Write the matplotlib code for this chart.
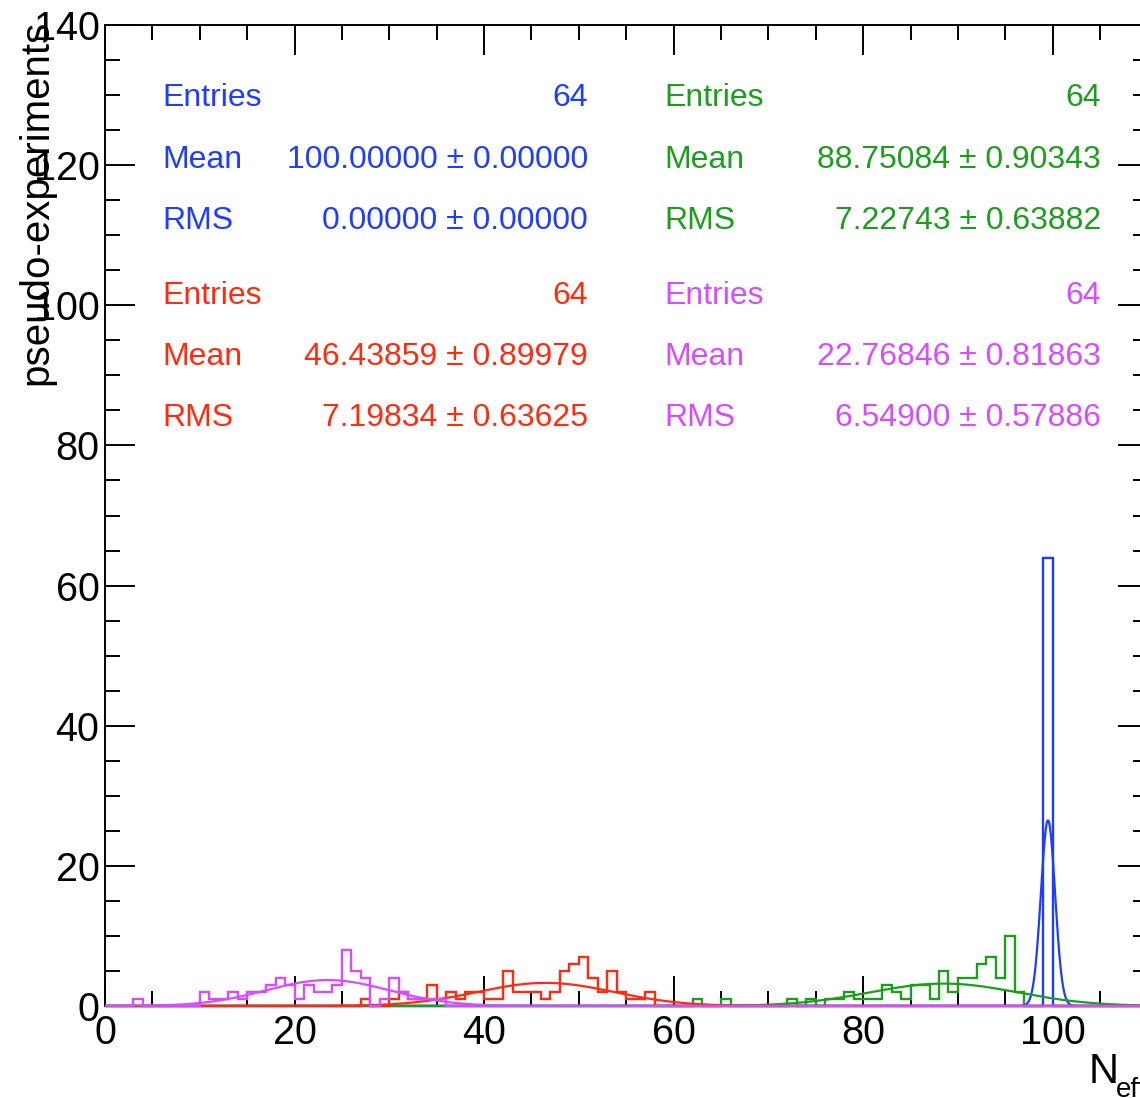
import numpy as np
import matplotlib.pyplot as plt
from matplotlib.ticker import MultipleLocator

plt.rcParams['font.family'] = ['Liberation Sans', 'DejaVu Sans']

W, H = 1140, 1098

# histogram binning: unit bins from 0 to 110
bin_edges = np.arange(0, 111, 1)

# non-empty bins (low edge) and their counts
blue_bins = [99]
blue_counts = [64]

green_bins = [62, 65, 72, 74, 76, 77, 78, 79, 80, 81, 82, 83, 84, 85, 86, 87, 88, 89, 90, 91, 92, 93, 94, 95, 96]
green_counts = [1, 1, 1, 1, 1, 1, 2, 1, 1, 1, 3, 2, 1, 3, 3, 1, 5, 2, 4, 4, 6, 7, 4, 10, 2]

red_bins = [27, 30, 31, 32, 33, 34, 35, 36, 37, 38, 39, 40, 41, 42, 43, 44, 45, 46, 47, 48, 49, 50,
            51, 52, 53, 54, 55, 56, 57]
red_counts = [1, 1, 2, 1, 1, 3, 1, 2, 1, 2, 2, 1, 1, 5, 2, 2, 2, 1, 2, 5, 6, 7,
              4, 2, 5, 2, 1, 1, 2]

magenta_bins = [3, 10, 11, 12, 13, 14, 15, 16, 17, 18, 19, 20, 21, 22, 23, 24, 25, 26, 27, 29, 30,
                31, 32, 33, 34, 35]
magenta_counts = [1, 2, 1, 1, 2, 1, 2, 2, 3, 4, 3, 1, 3, 2, 2, 3, 8, 5, 4, 1, 4,
                  2, 1, 1, 1, 1]

# gaussian fit results (amplitude, mean, sigma) as drawn
blue_fit = (26.5, 99.5, 0.75)
green_fit = (3.2, 88.5, 7.8)
red_fit = (3.3, 46.5, 7.2)
magenta_fit = (3.7, 23.5, 6.5)

# stats boxes
blue_stats = ["64", "100.00000 \u00b1 0.00000", "0.00000 \u00b1 0.00000"]
green_stats = ["64", "88.75084 \u00b1 0.90343", "7.22743 \u00b1 0.63882"]
red_stats = ["64", "46.43859 \u00b1 0.89979", "7.19834 \u00b1 0.63625"]
magenta_stats = ["64", "22.76846 \u00b1 0.81863", "6.54900 \u00b1 0.57886"]
stat_names = ["Entries", "Mean", "RMS"]

BLUE = '#1f3dff'
GREEN = '#1c9e1c'
RED = '#ff2b0f'
MAGENTA = '#d64cff'


def fill(bins, counts):
    h = np.zeros(len(bin_edges) - 1)
    h[np.array(bins)] = counts
    return h


fig = plt.figure(figsize=(W / 100, H / 100), dpi=100)
ax = fig.add_axes([105 / W, 92 / H, 1042.5 / W, 981 / H])

xs = np.linspace(0, 110, 2201)
for bins, counts, fit, col in [(blue_bins, blue_counts, blue_fit, BLUE),
                               (green_bins, green_counts, green_fit, GREEN),
                               (red_bins, red_counts, red_fit, RED),
                               (magenta_bins, magenta_counts, magenta_fit, MAGENTA)]:
    ax.stairs(fill(bins, counts), bin_edges, color=col, lw=1.7, zorder=3, clip_on=False)
    amp, mu, sig = fit
    ax.plot(xs, amp * np.exp(-0.5 * ((xs - mu) / sig) ** 2), color=col, lw=1.6, zorder=3)

ax.set_xlim(0, 110)
ax.set_ylim(0, 140)
ax.xaxis.set_major_locator(MultipleLocator(20))
ax.xaxis.set_minor_locator(MultipleLocator(5))
ax.yaxis.set_major_locator(MultipleLocator(20))
ax.yaxis.set_minor_locator(MultipleLocator(5))
ax.tick_params(which='both', direction='in', top=True, right=True, width=1.4, labelsize=28.5)
ax.tick_params(which='major', length=21.5)
ax.tick_params(which='minor', length=10.5)
ax.tick_params(axis='x', pad=6)
ax.tick_params(axis='y', pad=4)
for s in ax.spines.values():
    s.set_linewidth(1.4)

fig.text(36 / W, 1 - 20 / H, "pseudo-experiments", rotation=90, ha='center', va='top', fontsize=29)
fig.text(1089 / W, 1 - 1083 / H, "N", ha='left', va='baseline', fontsize=30)
fig.text(1116 / W, 1 - 1097 / H, "eff", ha='left', va='baseline', fontsize=20)


def stats_block(x_left, x_right, y_rows, values, col):
    for name, val, y in zip(stat_names, values, y_rows):
        fig.text(x_left / W, 1 - y / H, name, ha='left', va='baseline', fontsize=23, color=col)
        fig.text(x_right / W, 1 - y / H, val, ha='right', va='baseline', fontsize=23, color=col)


top_rows = [106, 168, 229]
bottom_rows = [304, 365, 426]
stats_block(162, 588, top_rows, blue_stats, BLUE)
stats_block(664, 1101, top_rows, green_stats, GREEN)
stats_block(162, 588, bottom_rows, red_stats, RED)
stats_block(664, 1101, bottom_rows, magenta_stats, MAGENTA)

fig.savefig("out.png", dpi=100)
